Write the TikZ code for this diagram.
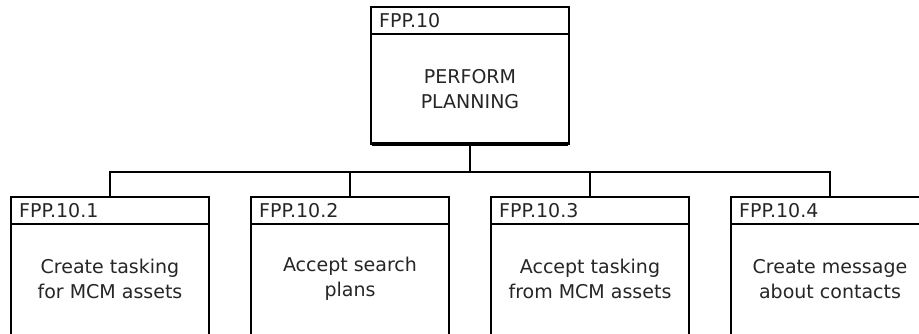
\documentclass[tikz,border=0pt]{standalone}
\usepackage{fontspec}
\setmainfont{DejaVu Sans}
\begin{document}
\begin{tikzpicture}[x=1pt,y=-1pt,
  procframe/.style={draw=black,line width=1.6pt,minimum width=198pt,inner sep=0pt,outer sep=0pt,anchor=north},
  headtext/.style={anchor=base west,inner sep=0pt,font=\fontsize{19}{24}\selectfont,text=black!85},
  bodytext/.style={align=center,inner sep=0pt,font=\fontsize{19}{25}\selectfont,text=black!85},
  conn/.style={draw=black,line width=1.4pt}]
\useasboundingbox (0,0) rectangle (919,334);
\clip (0,0) rectangle (919,334);
\fill[white] (0,0) rectangle (919,334);

% activity box: name, centre x, top y, height, identifier, description
\newcommand\procbox[6]{%
  \node[procframe,minimum height=#4pt] (#1) at (#2,#3) {};
  \draw[line width=1.6pt] ([yshift=-27pt]#1.north west) -- ([yshift=-27pt]#1.north east);
  \draw[line width=3.5pt] ([xshift=0.8pt]#1.south west) -- ([xshift=-0.8pt]#1.south east);
  \node[headtext] (#1-id) at ([xshift=8pt,yshift=-21pt]#1.north west) {#5};
  \node[bodytext] (#1-txt) at ([yshift=-82pt]#1.north) {#6};
}

\procbox{top}{470}{7}{137}{FPP.10}{PERFORM\\PLANNING}
\procbox{c1}{110}{197}{142}{FPP.10.1}{Create tasking\\for MCM assets}
\procbox{c2}{350}{197}{142}{FPP.10.2}{Accept search\\plans}
\procbox{c3}{590}{197}{142}{FPP.10.3}{Accept tasking\\from MCM assets}
\procbox{c4}{830}{197}{142}{FPP.10.4}{Create message\\about contacts}

% decomposition connectors
\foreach \c in {c1,c2,c3,c4}
  \draw[conn] (top.south) -- ++(0,28) -| (\c.north);
\end{tikzpicture}
\end{document}
